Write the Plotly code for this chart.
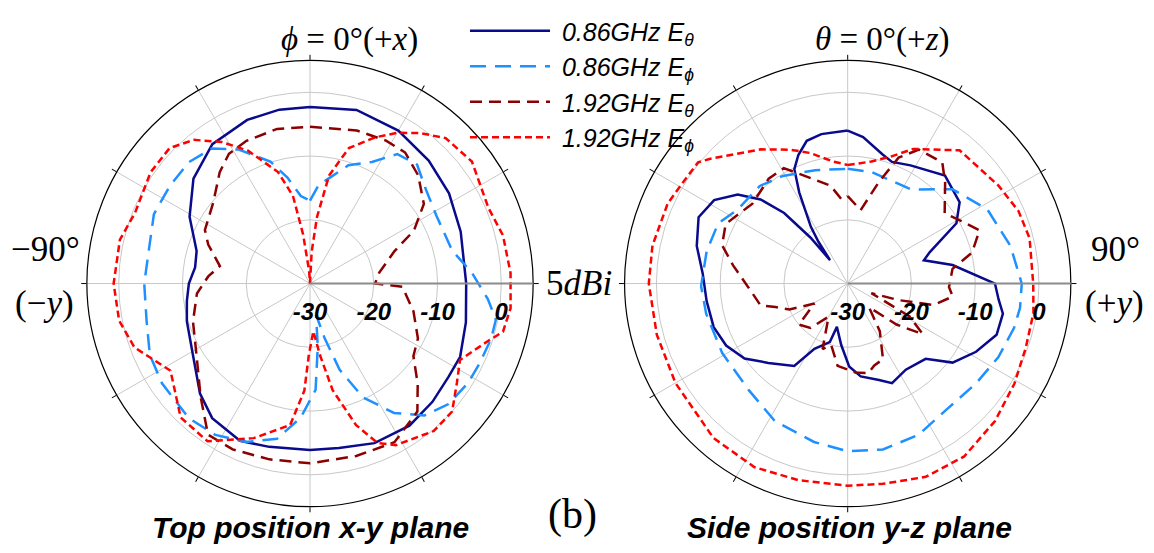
import plotly.graph_objects as go

W, H = 1154, 553

# ---------------- data (dBi vs angle in degrees) ----------------
# Left: Top position x-y plane (phi)
L_th086_ang = [0, 15, 30, 44, 57, 71, 90, 104, 116, 124, 134, 145, 158, 170, 180, 194, 204, 216, 225, 238, 253, 262, 270, 278, 286, 299, 312, 325, 339, 350, 360]
L_th086_val = [-2.3, -1.8, -2.3, -3.2, -4.0, -5.0, -5.5, -4.8, -3.8, -3.8, -3.3, -2.8, -3.0, -3.8, -3.9, -3.6, -3.0, -3.9, -5.6, -8.4, -9.8, -10.5, -11.0, -11.8, -11.5, -8.4, -5.4, -3.3, -2.5, -2.3, -2.3]

L_ph086_ang = [0, 5, 12, 18, 27, 34, 42, 51, 62, 77, 86, 95, 101, 107, 115, 122, 131, 139, 147, 155, 161, 165, 169, 173, 177, 184, 192, 202, 212, 222, 236, 246, 257, 270, 281, 294, 305, 315, 324, 332, 342, 348, 354, 360]
L_ph086_val = [-17.0, -14.5, -12.7, -10.5, -8.6, -5.5, -4.9, -6.6, -7.5, -7.1, -4.6, -2.0, -0.3, -0.3, -0.6, -0.7, -1.2, -2.6, -5.8, -10.3, -15.7, -21.1, -25.0, -20.0, -13.3, -8.9, -5.1, -3.2, -2.0, -1.6, -2.0, -2.5, -3.7, -4.0, -4.2, -3.2, -3.2, -3.1, -3.8, -6.2, -9.9, -13.0, -16.2, -17.0]

L_th192_ang = [0, 17, 28, 36, 45, 55, 63, 69, 81, 90, 92, 105, 117, 125, 133, 140, 152, 165, 180, 193, 205, 214, 224, 238, 252, 265, 274, 281, 291, 297, 310, 321, 328, 336, 348, 360]
L_th192_val = [-5.4, -4.9, -4.6, -4.6, -6.0, -8.2, -11.7, -15.8, -19.0, -19.8, -15.5, -13.2, -11.0, -10.2, -6.9, -3.8, -1.8, -2.0, -1.8, -1.7, -1.3, -1.4, -5.3, -9.0, -10.7, -12.2, -14.0, -15.6, -12.9, -11.5, -10.2, -7.5, -6.0, -5.5, -5.2, -5.4]

L_ph192_ang = [0, 3, 6, 10, 16, 24, 30, 36, 43, 53, 67, 76, 87, 97, 104, 108, 117, 124, 132, 140, 152, 157, 162, 168, 172, 176, 181, 183, 188, 200, 213, 224, 238, 250, 259, 270, 283, 292, 305, 314, 321, 328, 335, 344, 349, 352, 356, 360]
L_ph192_val = [-30.0, -25.0, -19.5, -12.8, -7.9, -4.9, -2.7, -0.8, 1.2, 1.8, 0.4, 1.2, 1.5, 1.7, 1.2, -0.7, -3.6, -2.2, 0.0, 0.2, -1.3, -2.8, -6.7, -12.9, -18.6, -22.5, -18.7, -13.2, -7.6, -4.2, -0.5, -0.8, -4.2, -0.7, 0.5, 0.8, 0.6, -0.4, 0.5, 0.6, -1.0, -3.8, -7.0, -11.8, -16.0, -22.2, -28.0, -30.0]

# Right: Side position y-z plane (theta)
R_th086_ang = [0, 6, 15, 20, 28, 42, 54, 61, 69, 73, 80, 90, 96, 101, 109, 118, 127, 134, 146, 156, 162, 172, 179, 186, 194, 197, 207, 213, 225, 234, 243, 252, 263, 274, 284, 294, 302, 309, 314, 318, 321, 323, 325, 327, 332, 335, 339, 344, 350, 360]
R_th086_val = [-6.0, -6.9, -9.0, -9.7, -9.0, -7.2, -8.3, -10.5, -16.2, -17.5, -13.3, -6.9, -6.2, -5.2, -5.3, -7.2, -9.4, -13.0, -13.7, -12.9, -14.1, -15.3, -17.0, -20.3, -23.0, -20.4, -18.5, -14.6, -12.4, -10.0, -8.6, -7.9, -7.7, -7.2, -5.6, -4.4, -5.3, -7.8, -11.0, -15.1, -20.7, -25.4, -22.0, -19.4, -13.8, -10.2, -8.4, -6.7, -6.2, -6.0]

R_ph086_ang = [0, 12, 34, 48, 62, 77, 90, 98, 105, 116, 128, 141, 155, 168, 180, 192, 208, 223, 241, 258, 269, 283, 295, 304, 318, 329, 344, 360]
R_ph086_val = [-12.0, -12.1, -12.2, -7.9, -5.2, -3.8, -2.7, -2.7, -3.0, -3.7, -4.5, -4.9, -3.8, -3.4, -3.7, -4.6, -5.6, -7.2, -7.5, -7.3, -7.0, -7.3, -7.6, -9.2, -9.4, -10.3, -11.5, -12.0]

R_th192_ang = [0, 10, 17, 22, 28, 38, 44, 54, 61, 68, 76, 82, 92, 97, 104, 108, 112, 118, 124, 130, 138, 146, 155, 162, 167, 175, 187, 195, 201, 210, 220, 230, 239, 246, 252, 256, 264, 279, 287, 296, 310, 323, 331, 342, 350, 356, 360]
R_th192_val = [-16.3, -18.3, -13.4, -8.7, -6.2, -5.9, -8.0, -11.2, -9.7, -7.7, -9.9, -13.4, -14.1, -13.4, -16.1, -21.6, -26.0, -19.0, -15.8, -20.0, -25.0, -21.0, -16.9, -16.5, -15.6, -16.0, -17.0, -20.0, -19.0, -24.0, -20.9, -20.0, -23.9, -20.0, -18.1, -15.9, -15.0, -11.8, -9.4, -8.7, -10.5, -9.4, -9.3, -12.8, -14.4, -16.8, -16.3]

R_ph192_ang = [0, 11, 19, 26, 35, 40, 57, 67, 76, 90, 99, 110, 121, 133, 146, 158, 170, 180, 194, 207, 221, 240, 255, 270, 281, 294, 302, 309, 312, 327, 337, 344, 353, 360]
R_ph192_val = [-11.4, -10.5, -8.9, -6.5, -4.4, -2.7, -1.8, -0.9, -0.6, -0.9, -0.5, -0.3, 0.5, 1.6, 2.7, 2.7, 1.9, 1.7, 1.8, 2.3, 2.1, 1.2, 1.0, 1.2, 1.2, 0.9, 0.3, 0.2, -0.8, -4.9, -7.2, -8.7, -10.7, -11.4]

names = ["0.86GHz E<sub>θ</sub>", "0.86GHz E<sub>ϕ</sub>", "1.92GHz E<sub>θ</sub>", "1.92GHz E<sub>ϕ</sub>"]
colors = ["#0a0a8c", "#1e90ff", "#8b0000", "#ff0000"]
dashes = ["solid", "16px,9px", "12px,7px", "7px,4px"]
widths = [2.5, 2.5, 2.5, 2.5]

left = [(L_th086_ang, L_th086_val), (L_ph086_ang, L_ph086_val), (L_th192_ang, L_th192_val), (L_ph192_ang, L_ph192_val)]
right = [(R_th086_ang, R_th086_val), (R_ph086_ang, R_ph086_val), (R_th192_ang, R_th192_val), (R_ph192_ang, R_ph192_val)]

fig = go.Figure()
for i, (a, v) in enumerate(left):
    fig.add_trace(go.Scatterpolar(theta=a, r=v, mode="lines", name="\u00a0" + names[i], legendgroup=f"g{i}",
                                  line=dict(color=colors[i], dash=dashes[i], width=widths[i]),
                                  subplot="polar", showlegend=True))
for i, (a, v) in enumerate(right):
    fig.add_trace(go.Scatterpolar(theta=a, r=v, mode="lines", name=names[i], legendgroup=f"g{i}",
                                  line=dict(color=colors[i], dash=dashes[i], width=widths[i]),
                                  subplot="polar2", showlegend=False))

# page offset (body margin) compensation: screen px -> paper fraction
OFF = 8
def fx(x):
    return (x - OFF) / W
def fy(y):
    return 1 - (y - OFF) / H

r_ticks = [-30, -20, -10, 0]
r_text = ["-30", "-20", "-10", "0"]
HALF = 226  # domain half-size (px) = circle radius

def polar_layout(cx, cy):
    return dict(
        domain=dict(x=[fx(cx - HALF), fx(cx + HALF)], y=[fy(cy + HALF), fy(cy - HALF)]),
        bgcolor="white",
        angularaxis=dict(rotation=90, direction="clockwise", dtick=30, ticks="outside", ticklen=5,
                         tickcolor="black", showticklabels=False, showline=True, linecolor="black",
                         linewidth=1.2, gridcolor="#c8c8c8", gridwidth=1),
        radialaxis=dict(range=[-30, 5], tickvals=r_ticks, ticktext=r_text, angle=0, tickangle=0,
                        showline=True, linecolor="#8c8c8c", linewidth=2, gridcolor="#c8c8c8",
                        ticks="outside", ticklen=7, tickcolor="rgba(0,0,0,0)", side="clockwise",
                        tickfont=dict(family="Arial", size=24, color="black", weight="bold", style="italic")),
    )

serif = dict(family="Liberation Serif", size=35, color="black")
bold_it = dict(family="Arial", size=30, color="black", weight="bold", style="italic")
annotations = [
    dict(text="<i>ϕ</i> = 0°(+<i>x</i>)", x=fx(349), y=fy(33), font=dict(serif, size=33)),
    dict(text="<i>θ</i> = 0°(+<i>z</i>)", x=fx(882), y=fy(33), font=dict(serif, size=33)),
    dict(text="−90°", x=fx(45), y=fy(245)),
    dict(text="(−<i>y</i>)", x=fx(44), y=fy(300)),
    dict(text="5<i>dBi</i>", x=fx(579), y=fy(280)),
    dict(text="90°", x=fx(1115), y=fy(245)),
    dict(text="(+<i>y</i>)", x=fx(1114), y=fy(300)),
    dict(text="(b)", x=fx(572), y=fy(514), font=dict(family="Liberation Serif", size=42, color="black")),
    dict(text="Top position x-y plane", x=fx(310), y=fy(527), font=bold_it),
    dict(text="Side position y-z plane", x=fx(849), y=fy(527), font=bold_it),
]
for a in annotations:
    a.update(xref="paper", yref="paper", showarrow=False, xanchor="center", yanchor="middle")
    a.setdefault("font", serif)

fig.update_layout(
    width=W, height=H,
    margin=dict(l=0, r=0, t=0, b=0),
    paper_bgcolor="white",
    polar=polar_layout(310, 280),
    polar2=polar_layout(847.7, 280),
    annotations=annotations,
    legend=dict(x=fx(465), y=fy(1), xanchor="left", yanchor="top", bgcolor="rgba(0,0,0,0)",
                font=dict(family="Arial", size=25, color="black", style="italic"),
                itemwidth=80, tracegroupgap=0),
    showlegend=True,
)

fig.write_html("out.html")
